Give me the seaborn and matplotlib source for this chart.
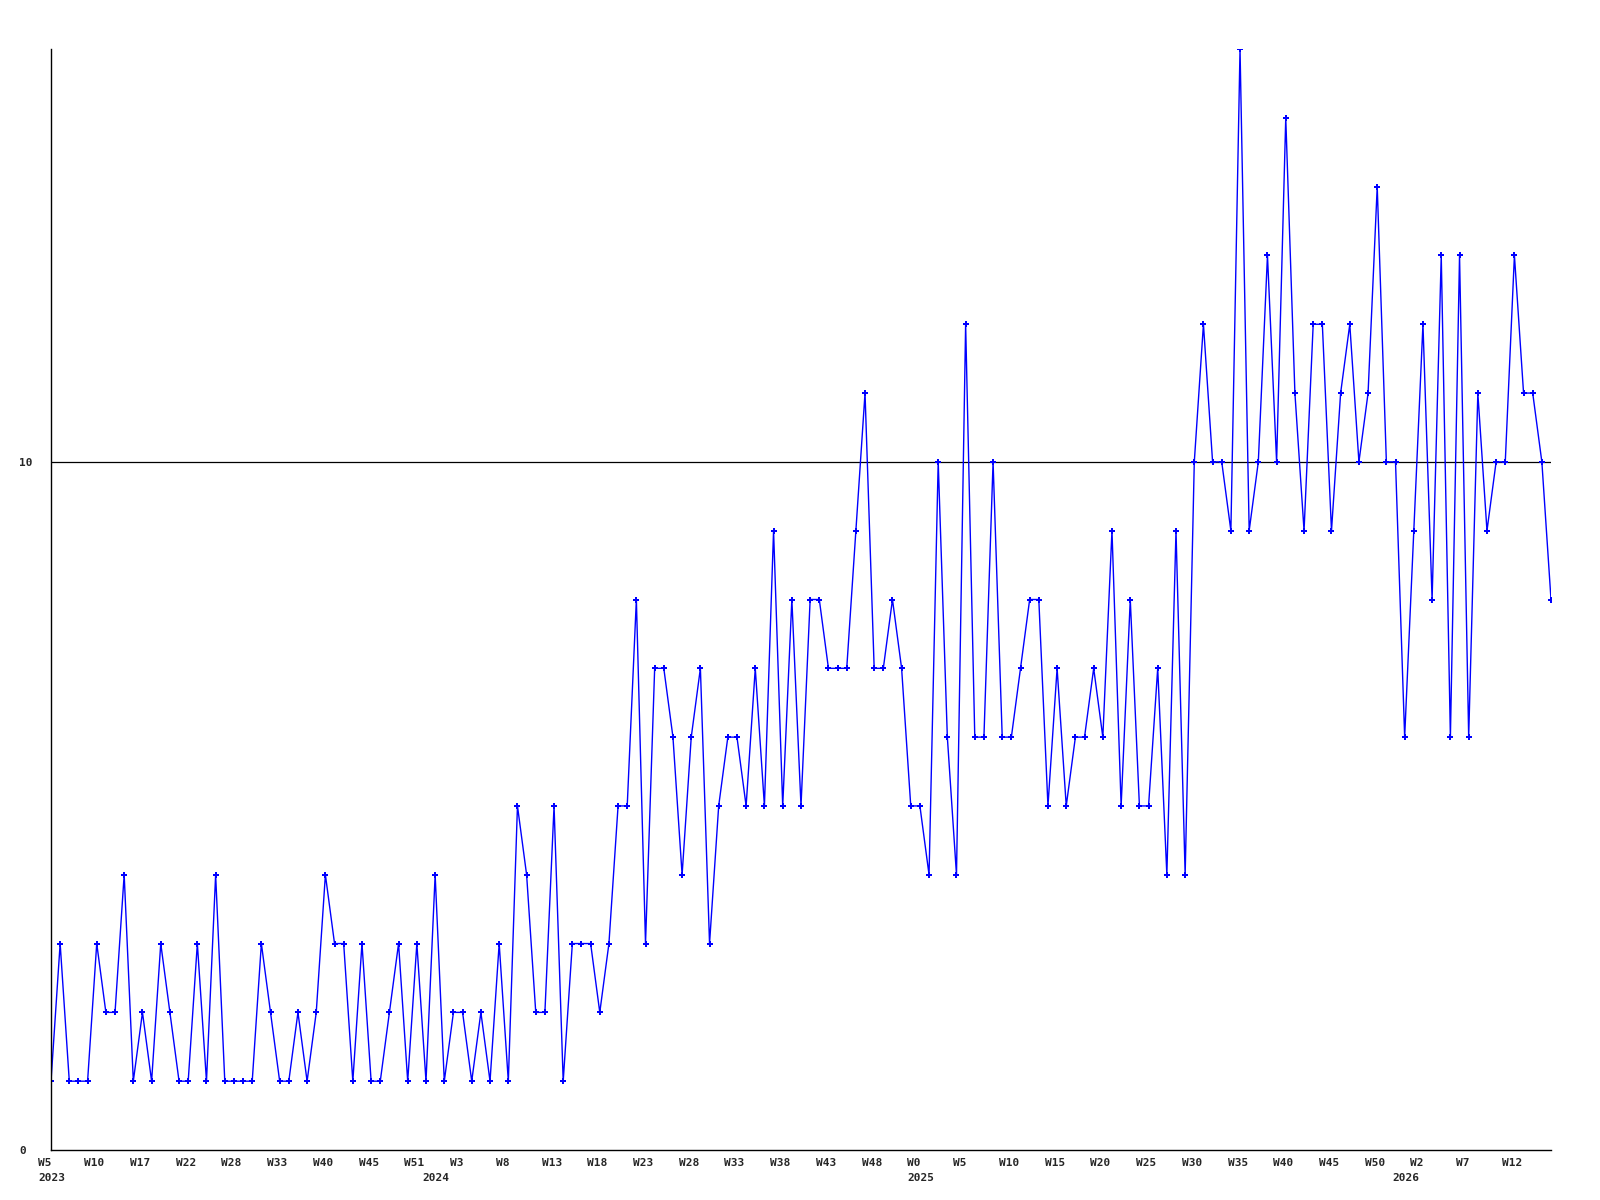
import seaborn as sns
import matplotlib
matplotlib.use("Agg")
import matplotlib.pyplot as plt
from matplotlib.transforms import ScaledTranslation
import pandas as pd

# weekly counts, one value per point
counts = [1, 3, 1, 1, 1, 3, 2, 2, 4, 1,
          2, 1, 3, 2, 1, 1, 3, 1, 4, 1,
          1, 1, 1, 3, 2, 1, 1, 2, 1, 2,
          4, 3, 3, 1, 3, 1, 1, 2, 3, 1,
          3, 1, 4, 1, 2, 2, 1, 2, 1, 3,
          1, 5, 4, 2, 2, 5, 1, 3, 3, 3,
          2, 3, 5, 5, 8, 3, 7, 7, 6, 4,
          6, 7, 3, 5, 6, 6, 5, 7, 5, 9,
          5, 8, 5, 8, 8, 7, 7, 7, 9, 11,
          7, 7, 8, 7, 5, 5, 4, 10, 6, 4,
          12, 6, 6, 10, 6, 6, 7, 8, 8, 5,
          7, 5, 6, 6, 7, 6, 9, 5, 8, 5,
          5, 7, 4, 9, 4, 10, 12, 10, 10, 9,
          16, 9, 10, 13, 10, 15, 11, 9, 12, 12,
          9, 11, 12, 10, 11, 14, 10, 10, 6, 9,
          12, 8, 13, 6, 13, 6, 11, 9, 10, 10,
          13, 11, 11, 10, 8]

week_labels = ["W5", "W10", "W17", "W22", "W28", "W33", "W40", "W45", "W51",
               "W3", "W8", "W13", "W18", "W23", "W28", "W33", "W38", "W43", "W48",
               "W0", "W5", "W10", "W15", "W20", "W25", "W30", "W35", "W40", "W45", "W50",
               "W2", "W7", "W12"]
years = ["2023", "2024", "2025", "2026"]
year_start = [0, 42, 95, 148]   # point index where each year begins

df = pd.DataFrame({"idx": range(len(counts)), "count": counts})

sns.set_style("white")
plt.rcParams["font.family"] = ["DejaVu Sans Mono", "DejaVu Sans"]

fig = plt.figure(figsize=(16, 12), dpi=100)
ax = fig.add_axes([51 / 1600, 50 / 1200, 1500 / 1600, 1101 / 1200])

sns.lineplot(data=df, x="idx", y="count", ax=ax, color="#0000ff", linewidth=1.0,
             marker="P", markersize=5, markeredgewidth=0)

ax.set_xlim(0, len(counts) - 1)
ax.set_ylim(0, 16)
ax.axhline(10, color="black", linewidth=0.9, zorder=0)

# week labels every 5 points, year labels underneath
ax.xaxis.remove_overlapping_locs = False
ax.set_xticks(list(range(0, len(counts), 5)))
ax.set_xticklabels(week_labels, fontsize=8, fontweight="bold", ha="left", va="top")
ax.set_xticks(year_start, minor=True)
ax.set_xticklabels(years, minor=True, fontsize=8, fontweight="bold", ha="left", va="top")
ax.set_yticks([0, 10])
ax.set_yticklabels(["0", "10"], fontsize=8, fontweight="bold", ha="left")
ax.tick_params(axis="x", which="major", length=0, pad=6)
ax.tick_params(axis="x", which="minor", length=0, pad=16.5)
ax.tick_params(axis="y", length=0, pad=23)

off = ScaledTranslation(-12.5 / 100, 0, fig.dpi_scale_trans)
for lab in ax.get_xticklabels() + ax.get_xticklabels(minor=True):
    lab.set_transform(lab.get_transform() + off)

ax.set_xlabel("")
ax.set_ylabel("")
for s in ["top", "right"]:
    ax.spines[s].set_visible(False)
for s in ["left", "bottom"]:
    ax.spines[s].set_color("black")
    ax.spines[s].set_linewidth(1.0)

fig.savefig("out.png", dpi=100)
